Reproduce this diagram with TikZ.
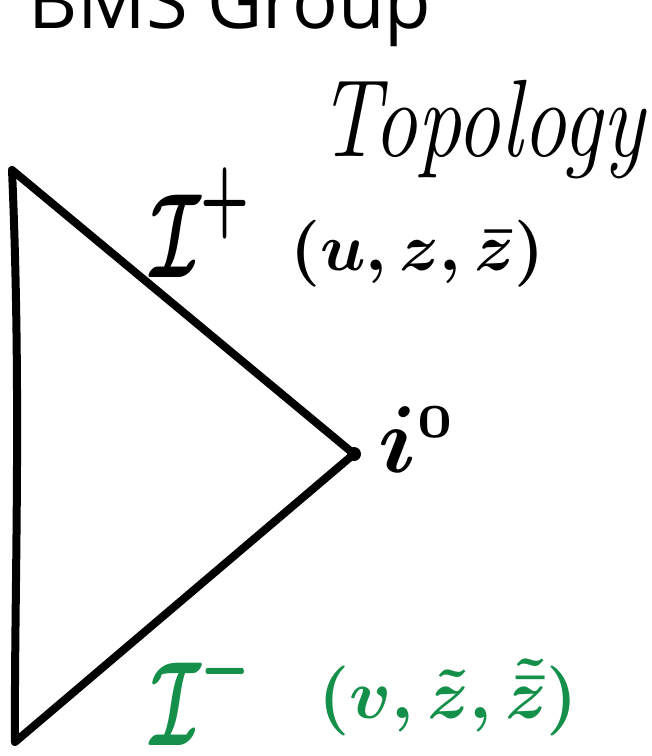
\documentclass[tikz,border=0pt]{standalone}
\usepackage{amsmath,amssymb}
\usepackage{graphicx}
\usepackage{fontspec}
\newfontfamily\titlefont{Open Sans}
\usetikzlibrary{calc}
\definecolor{inkblk}{HTML}{000000}
\definecolor{inkgrn}{HTML}{14904A}

\begin{document}
\begin{tikzpicture}[x=1pt, y=-1pt,
  pen/.style={inkblk, line width=8pt, line cap=round, line join=round},
  hand/.style={inner sep=0pt, anchor=base west}]

% Background / bounding box
\useasboundingbox (0,0) rectangle (652,756);
\fill[white] (0,0) rectangle (652,756);

% Title (cut at the top edge)
\node[hand, font=\titlefont\fontsize{76}{84}\selectfont] (title) at (28,28) {BMS Group};

% ============================================================
% Penrose triangle
% ============================================================
\coordinate (top) at (12,170);
\coordinate (bot) at (15,742);
\coordinate (tip) at (354,454);

\draw[pen] (top) .. controls (22,400) and (14,600) .. (bot);
\draw[pen] (top) -- (tip);
\draw[pen] (tip) -- (bot);
\fill[inkblk] (tip) circle (7pt);

% Labels
\node[hand, font=\itshape\fontsize{88}{96}\selectfont] (topo) at (318,156) {\scalebox{1}[1.25]{Topology}};

\node[hand] (scrip) at (150,277) {\scalebox{7}[12]{$\boldsymbol{\mathcal{I}}^{\boldsymbol{+}}$}};
\node[hand] (ucoord) at (290,270) {\scalebox{6.7}{\boldmath$(u,z,\bar{z})$}};

\node[hand] (izero) at (378,472) {\scalebox{9.5}{\boldmath$i^{\scriptscriptstyle 0}$}};

\node[hand, text=inkgrn] (scrim) at (150,745) {\scalebox{7}[12]{$\boldsymbol{\mathcal{I}}^{\boldsymbol{-}}$}};
\node[hand, text=inkgrn] (vcoord) at (318,718) {\scalebox{7}{\boldmath$(v,\tilde{z},\tilde{\bar{z}})$}};

\end{tikzpicture}
\end{document}
